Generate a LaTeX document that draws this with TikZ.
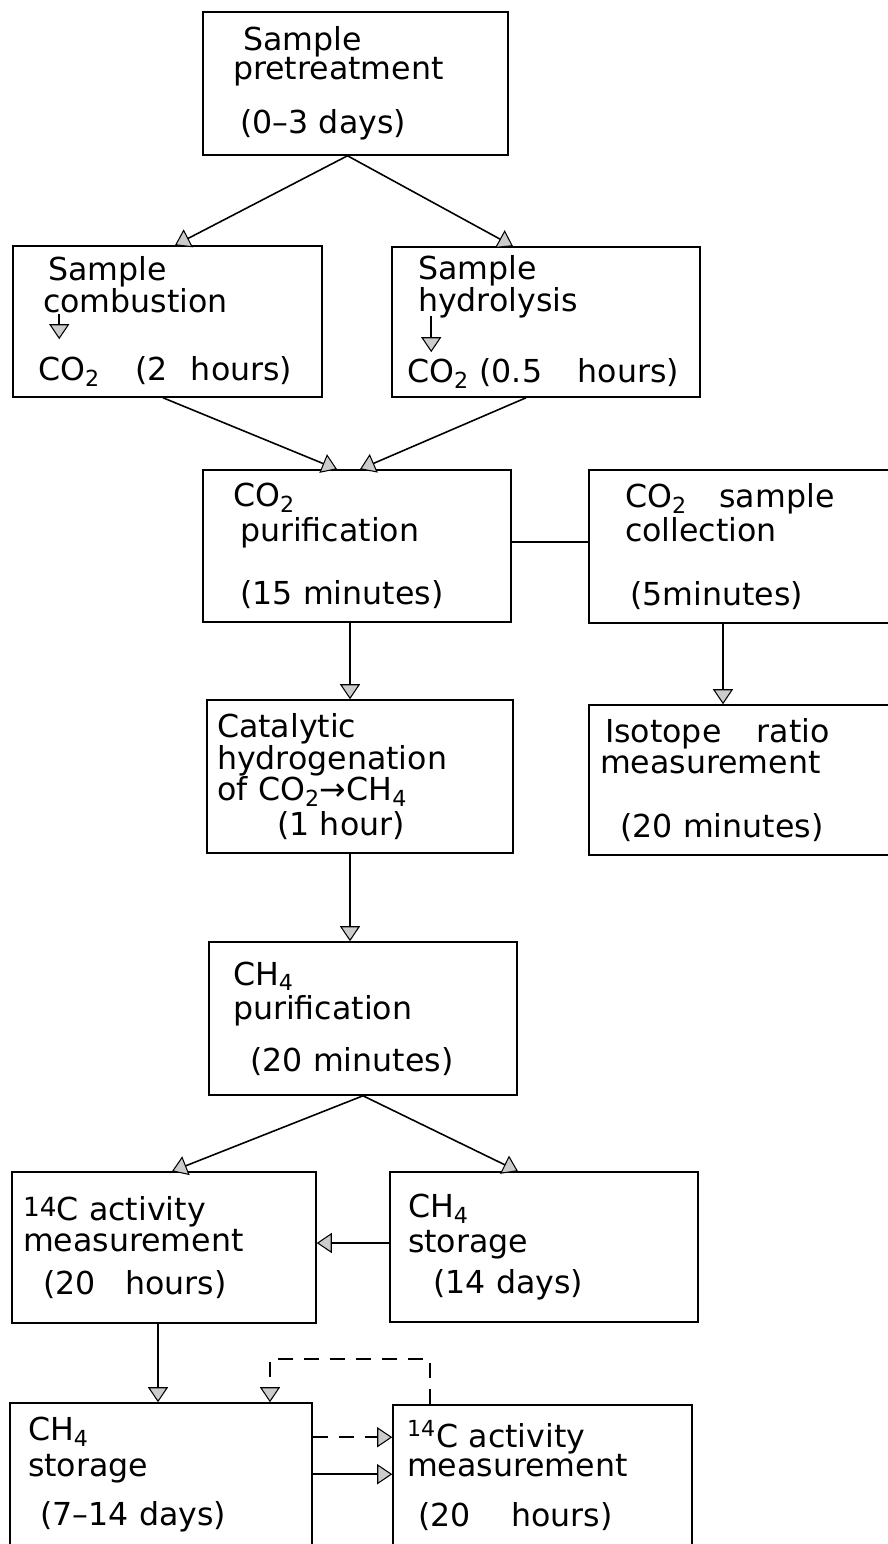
\documentclass[tikz,border=0pt]{standalone}
\usepackage{fontspec}
\setmainfont{DejaVu Sans}
\usetikzlibrary{arrows.meta,positioning}

\begin{document}
\begin{tikzpicture}[x=0.02cm, y=-0.02cm,
    stage/.style={draw=black, line width=0.9pt, align=left, inner ysep=0pt,
        font=\fontsize{18}{18}\selectfont},
    tip/.style={line width=0.9pt, -{Triangle[length=3mm, width=4mm, fill=gray!40, line width=0.6pt]}},
    loopline/.style={dash pattern=on 3mm off 2.2mm},
    link/.style={line width=0.9pt}]
    \useasboundingbox (0,0) rectangle (887,1544);

    % Top stages
    \node[stage, minimum width=6.10cm, minimum height=2.86cm, inner xsep=0.6cm, text width=4.9cm] (pre) at (355.5,83.5)
        {\hspace*{0.2cm}Sample\\[-0.06cm]pretreatment\\[0.46cm]\hspace*{0.14cm}(0--3 days)};
    \node[stage, minimum width=6.18cm, minimum height=3.02cm, inner xsep=0.5cm, text width=5.18cm] (comb) at (167.5,321.5)
        {\hspace*{0.2cm}Sample\\\hspace*{0.1cm}combustion\\[0.73cm]CO\textsubscript{2}\hspace{0.5cm} (2\hspace{0.25cm} hours)};
    \node[stage, minimum width=6.16cm, minimum height=3.0cm, inner xsep=0.3cm, text width=5.56cm] (hydro) at (546,322)
        {\hspace*{0.22cm}Sample\\\hspace*{0.22cm}hydrolysis\\[0.8cm]CO\textsubscript{2} (0.5\hspace{0.5cm} hours)};

    % CO2 stages
    \node[stage, minimum width=6.16cm, minimum height=3.04cm, inner xsep=0.6cm, text width=4.96cm] (co2pur) at (357,546)
        {CO\textsubscript{2}\\[0.06cm]\hspace*{0.14cm}purification\\[0.64cm]\hspace*{0.14cm}(15 minutes)};
    \node[stage, minimum width=6.06cm, minimum height=3.06cm, inner xsep=0.72cm, text width=4.62cm] (coll) at (740.5,546.5)
        {CO\textsubscript{2}\hspace{0.44cm} sample\\[0.06cm]collection\\[0.64cm]\hspace*{0.1cm}(5minutes)};
    \node[stage, minimum width=6.12cm, minimum height=3.06cm, inner xsep=0.2cm, text width=5.72cm] (cat) at (360,776.5)
        {Catalytic\\hydrogenation\\of CO\textsubscript{2}→CH\textsubscript{4}\\[0.06cm]\hspace*{1.2cm}(1 hour)};
    \node[stage, minimum width=6.06cm, minimum height=3.0cm, inner xsep=0.22cm, text width=5.62cm] (iso) at (740.5,780)
        {\hspace*{0.1cm}Isotope\hspace{0.5cm} ratio\\measurement\\[0.65cm]\hspace*{0.4cm}(20 minutes)};

    % CH4 stages
    \node[stage, minimum width=6.16cm, minimum height=3.06cm, inner xsep=0.48cm, text width=5.2cm] (ch4pur) at (363,1018.5)
        {CH\textsubscript{4}\\[0.06cm]purification\\[0.4cm]\hspace*{0.34cm}(20 minutes)};
    \node[stage, minimum width=6.08cm, minimum height=3.02cm, inner xsep=0.22cm, text width=5.64cm] (act1) at (164,1247.5)
        {\raisebox{2pt}{\fontsize{15}{15}\selectfont 14}C activity\\measurement\\[0.22cm]\hspace*{0.4cm}(20\hspace{0.38cm} hours)};
    \node[stage, minimum width=6.16cm, minimum height=3.0cm, inner xsep=0.36cm, text width=5.44cm] (stor1) at (544,1247)
        {CH\textsubscript{4}\\[0.06cm]storage\\[0.18cm]\hspace*{0.5cm}(14 days)};
    \node[stage, minimum width=6.04cm, minimum height=2.86cm, inner xsep=0.36cm, text width=5.32cm] (stor2) at (161,1474.5)
        {CH\textsubscript{4}\\[0.1cm]storage\\[0.34cm]\hspace*{0.24cm}(7--14 days)};
    \node[stage, minimum width=5.98cm, minimum height=2.82cm, inner xsep=0.28cm, text width=5.42cm] (act2) at (542.5,1475.5)
        {\textsuperscript{14}C activity\\[-0.06cm]measurement\\[0.36cm]\hspace*{0.22cm}(20\hspace{0.6cm} hours)};

    % Connections
    \draw[tip] ([xshift=-0.16cm]pre.south) -- ([xshift=0.15cm]comb.north);
    \draw[tip] ([xshift=-0.16cm]pre.south) -- ([xshift=-0.66cm]hydro.north);
    \draw[tip] ([xshift=-0.09cm]comb.south) -- ([xshift=-0.4cm]co2pur.north);
    \draw[tip] ([xshift=-0.4cm]hydro.south) -- ([xshift=0.06cm]co2pur.north);
    \draw[link] ([yshift=0.08cm]co2pur.east) -- ([yshift=0.08cm]co2pur.east -| coll.west);
    \draw[tip] ([xshift=-0.14cm]co2pur.south) -- ([xshift=-0.14cm]co2pur.south |- cat.north);
    \draw[tip] ([xshift=-0.35cm]coll.south) -- ([xshift=-0.35cm]coll.south |- iso.north);
    \draw[tip] ([xshift=-0.2cm]cat.south) -- ([xshift=-0.2cm]cat.south |- ch4pur.north);
    \draw[tip] (ch4pur.south) -- ([xshift=0.16cm]act1.north);
    \draw[tip] (ch4pur.south) -- ([xshift=-0.52cm]stor1.north);
    \draw[tip] ([yshift=0.08cm]stor1.west) -- ([yshift=0.08cm]stor1.west -| act1.east);
    \draw[tip] ([xshift=-0.12cm]act1.south) -- ([xshift=-0.12cm]act1.south |- stor2.north);
    \draw[tip, loopline] ([xshift=-2.25cm]act2.north) -- ++(0,0.9cm) -| ([xshift=2.18cm]stor2.north);
    \draw[tip, loopline] ([yshift=-0.7cm]stor2.north east) -- ([yshift=-0.7cm]stor2.north east -| act2.west);
    \draw[tip] ([yshift=-1.44cm]stor2.north east) -- ([yshift=-1.44cm]stor2.north east -| act2.west);

    % Arrows inside the boxes
    \draw[tip] ([xshift=0.94cm, yshift=-1.38cm]comb.north west) -- ++(0,-0.5cm);
    \draw[tip] ([xshift=0.8cm, yshift=-1.4cm]hydro.north west) -- ++(0,-0.72cm);
\end{tikzpicture}
\end{document}
